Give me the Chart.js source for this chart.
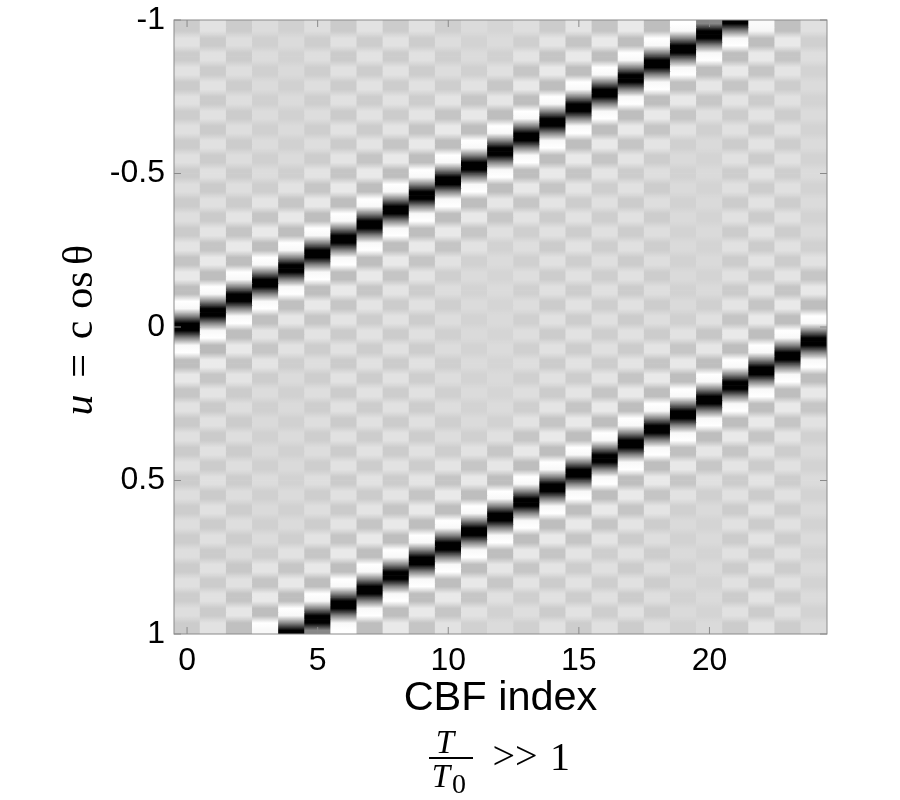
<!DOCTYPE html>
<html>
<head>
<meta charset="utf-8">
<title>CBF index</title>
<script src="https://cdn.jsdelivr.net/npm/chart.js@4"></script>
<style>
  html, body { margin: 0; background: #fff; }
  canvas { display: block; }
</style>
</head>
<body>
<canvas id="cbfChart" width="900" height="800"></canvas>
<script>
// grey level (0 black .. 255 white) of each CBF column, top (u = -1) to bottom (u = 1)
const col00 = [204,204,226,226,204,204,226,226,203,203,225,225,205,205,224,224,204,204,224,224,204,204,222,222,204,204,222,222,203,203,228,228,196,196,233,233,190,190,255,248,135,0,0,135,248,255,190,190,232,232,198,198,226,226,202,202,224,224,203,203,224,224,204,204,222,222,205,205,222,222,205,205,222,222,204,204,224,224,205,205,222,222,204,204];
const col01 = [226,226,203,203,225,225,204,204,226,226,203,203,225,225,203,203,225,225,204,204,224,224,203,203,224,224,203,203,228,228,197,197,233,233,190,190,255,248,135,0,0,135,248,255,186,186,235,235,198,198,228,228,202,202,225,225,203,203,225,225,204,204,224,224,203,203,225,225,204,204,224,224,203,203,225,225,204,204,225,225,203,203,226,226];
const col02 = [204,204,222,222,204,204,222,222,205,205,222,222,204,204,222,222,204,204,221,221,204,204,222,222,204,204,228,228,197,197,233,233,190,190,255,248,135,0,0,135,248,255,190,190,233,233,197,197,228,228,204,204,222,222,204,204,222,222,204,204,222,222,205,205,221,221,205,205,222,222,205,205,220,220,200,200,225,225,197,197,230,230,192,192];
const col03 = [220,220,208,208,220,220,208,208,219,219,208,208,220,220,208,208,220,220,208,208,220,220,206,206,228,228,197,197,233,233,190,190,255,248,135,0,0,135,248,255,192,192,228,228,198,198,228,228,205,205,220,220,208,208,218,218,209,209,218,218,208,208,220,220,208,208,218,218,208,208,220,220,206,206,228,228,197,197,233,233,190,190,255,248];
const col04 = [209,209,219,219,210,210,218,218,209,209,219,219,209,209,219,219,209,209,219,219,207,207,226,226,198,198,232,232,190,190,255,248,135,0,0,135,248,255,192,192,230,230,198,198,226,226,206,206,219,219,209,209,218,218,209,209,219,219,209,209,218,218,210,210,219,219,209,209,219,219,207,207,226,226,198,198,232,232,190,190,255,248,135,0];
const col05 = [222,222,206,206,222,222,206,206,222,222,206,206,221,221,206,206,222,222,205,205,227,227,198,198,232,232,190,190,255,248,135,0,0,135,248,255,190,190,232,232,198,198,227,227,205,205,222,222,206,206,222,222,206,206,222,222,206,206,221,221,206,206,222,222,206,206,222,222,205,205,227,227,198,198,232,232,190,190,255,248,135,0,0,135];
const col06 = [203,203,225,225,203,203,225,225,204,204,225,225,203,203,226,226,203,203,228,228,197,197,233,233,190,190,255,248,135,0,0,135,248,255,190,190,233,233,198,198,228,228,203,203,225,225,203,203,226,226,204,204,225,225,203,203,225,225,204,204,226,226,203,203,225,225,203,203,228,228,197,197,233,233,190,190,255,248,135,0,0,135,248,255];
const col07 = [226,226,205,205,226,226,205,205,226,226,205,205,226,226,204,204,228,228,197,197,233,233,190,190,255,248,135,0,0,135,248,255,190,190,233,233,198,198,228,228,205,205,226,226,205,205,225,225,205,205,226,226,205,205,225,225,205,205,226,226,205,205,226,226,204,204,228,228,197,197,233,233,190,190,255,248,135,0,0,135,248,255,190,190];
const col08 = [204,204,226,226,204,204,226,226,205,205,226,226,204,204,228,228,197,197,233,233,190,190,255,248,135,0,0,135,248,255,190,190,233,233,197,197,228,228,204,204,226,226,204,204,225,225,204,204,226,226,205,205,225,225,204,204,226,226,204,204,226,226,204,204,228,228,197,197,233,233,190,190,255,248,135,0,0,135,248,255,190,190,233,233];
const col09 = [225,225,205,205,225,225,205,205,225,225,205,205,228,228,197,197,233,233,190,190,255,248,135,0,0,135,248,255,190,190,233,233,197,197,228,228,205,205,225,225,205,205,224,224,205,205,225,225,206,206,225,225,205,205,224,224,205,205,225,225,205,205,228,228,197,197,233,233,190,190,255,248,135,0,0,135,248,255,190,190,233,233,197,197];
const col10 = [207,207,221,221,207,207,221,221,206,206,228,228,197,197,233,233,190,190,255,248,135,0,0,135,248,255,190,190,233,233,197,197,226,226,207,207,221,221,207,207,221,221,208,208,220,220,207,207,221,221,208,208,221,221,207,207,221,221,206,206,228,228,197,197,233,233,190,190,255,248,135,0,0,135,248,255,190,190,233,233,198,198,226,226];
const col11 = [219,219,211,211,219,219,208,208,226,226,198,198,232,232,190,190,255,248,135,0,0,135,248,255,190,190,232,232,198,198,226,226,209,209,219,219,211,211,219,219,211,211,218,218,211,211,219,219,211,211,219,219,211,211,219,219,208,208,226,226,198,198,232,232,190,190,255,248,135,0,0,135,248,255,190,190,232,232,198,198,226,226,209,209];
const col12 = [213,213,219,219,209,209,224,224,199,199,230,230,190,190,255,248,135,0,0,135,248,255,190,190,230,230,199,199,224,224,210,210,219,219,213,213,219,219,213,213,218,218,213,213,219,219,213,213,218,218,213,213,219,219,210,210,224,224,199,199,230,230,190,190,255,248,135,0,0,135,248,255,190,190,230,230,199,199,224,224,210,210,219,219];
const col13 = [222,222,207,207,227,227,198,198,232,232,190,190,255,248,135,0,0,135,248,255,190,190,232,232,198,198,227,227,207,207,222,222,208,208,222,222,208,208,221,221,208,208,222,222,208,208,222,222,208,208,222,222,207,207,227,227,198,198,232,232,190,190,255,248,135,0,0,135,248,255,190,190,232,232,198,198,227,227,207,207,222,222,208,208];
const col14 = [204,204,228,228,197,197,233,233,190,190,255,248,135,0,0,135,248,255,190,190,233,233,197,197,228,228,204,204,225,225,204,204,225,225,205,205,224,224,204,204,225,225,204,204,225,225,204,204,225,225,204,204,228,228,197,197,233,233,190,190,255,248,135,0,0,135,248,255,190,190,233,233,197,197,228,228,204,204,225,225,204,204,225,225];
const col15 = [228,228,197,197,233,233,190,190,255,248,135,0,0,135,248,255,190,190,233,233,197,197,228,228,205,205,226,226,205,205,226,226,206,206,225,225,205,205,226,226,205,205,226,226,205,205,226,226,205,205,228,228,197,197,233,233,190,190,255,248,135,0,0,135,248,255,190,190,233,233,197,197,228,228,205,205,226,226,205,205,226,226,205,205];
const col16 = [197,197,233,233,190,190,255,248,135,0,0,135,248,255,190,190,233,233,197,197,228,228,206,206,224,224,206,206,224,224,206,206,223,223,206,206,224,224,206,206,224,224,206,206,224,224,205,205,228,228,197,197,233,233,190,190,255,248,135,0,0,135,248,255,190,190,233,233,197,197,228,228,206,206,224,224,206,206,224,224,206,206,224,224];
const col17 = [233,233,190,190,255,248,135,0,0,135,248,255,190,190,233,233,197,197,228,228,204,204,225,225,204,204,225,225,205,205,224,224,204,204,225,225,204,204,225,225,204,204,225,225,204,204,228,228,197,197,233,233,190,190,255,248,135,0,0,135,248,255,190,190,233,233,197,197,228,228,204,204,225,225,204,204,225,225,204,204,225,225,204,204];
const col18 = [190,190,255,248,135,0,0,135,248,255,190,190,233,233,197,197,228,228,205,205,222,222,205,205,222,222,205,205,222,222,206,206,222,222,205,205,222,222,205,205,222,222,204,204,228,228,197,197,233,233,190,190,255,248,135,0,0,135,248,255,190,190,233,233,197,197,228,228,205,205,222,222,205,205,222,222,205,205,222,222,205,205,222,222];
const col19 = [255,248,135,0,0,135,248,255,192,192,232,232,198,198,226,226,208,208,218,218,210,210,218,218,210,210,218,218,211,211,218,218,210,210,218,218,210,210,218,218,208,208,226,226,198,198,232,232,190,190,255,248,135,0,0,135,248,255,192,192,232,232,198,198,226,226,208,208,218,218,210,210,218,218,210,210,218,218,210,210,218,218,210,210];
const col20 = [135,0,0,135,248,255,190,190,230,230,199,199,224,224,208,208,218,218,212,212,218,218,212,212,218,218,212,212,218,218,212,212,218,218,212,212,218,218,208,208,224,224,199,199,230,230,190,190,255,248,135,0,0,135,248,255,190,190,230,230,199,199,224,224,208,208,218,218,212,212,218,218,212,212,218,218,212,212,218,218,212,212,218,218];
const col21 = [0,135,248,255,190,190,233,233,197,197,228,228,204,204,225,225,204,204,225,225,205,205,224,224,204,204,225,225,204,204,225,225,204,204,225,225,203,203,228,228,197,197,233,233,190,190,255,248,135,0,0,135,248,255,190,190,233,233,197,197,228,228,204,204,225,225,204,204,225,225,204,204,225,225,204,204,225,225,204,204,225,225,204,204];
const col22 = [250,245,190,190,233,233,197,197,228,228,204,204,227,227,204,204,227,227,204,204,227,227,205,205,226,226,204,204,227,227,204,204,227,227,203,203,228,228,197,197,233,233,190,190,255,248,135,0,0,135,248,255,190,190,233,233,197,197,228,228,204,204,227,227,204,204,227,227,204,204,227,227,204,204,227,227,204,204,227,227,204,204,227,227];
const col23 = [192,192,233,233,197,197,228,228,205,205,225,225,205,205,225,225,205,205,225,225,206,206,224,224,205,205,225,225,205,205,225,225,204,204,228,228,197,197,233,233,190,190,255,248,135,0,0,135,248,255,190,190,233,233,197,197,228,228,205,205,225,225,205,205,225,225,205,205,225,225,205,205,225,225,205,205,225,225,205,205,225,225,205,205];
const col24 = [224,224,208,208,222,222,211,211,219,219,211,211,219,219,211,211,219,219,211,211,219,219,211,211,219,219,211,211,219,219,209,209,226,226,198,198,232,232,190,190,255,248,135,0,0,135,248,255,190,190,232,232,198,198,226,226,209,209,219,219,211,211,219,219,211,211,219,219,211,211,219,219,211,211,219,219,211,211,219,219,211,211,219,219];

const greyColumns = [col00,col01,col02,col03,col04,col05,col06,col07,col08,col09,col10,col11,col12,col13,col14,col15,col16,col17,col18,col19,col20,col21,col22,col23,col24];
const cbfIndex = ['0','1','2','3','4','5','6','7','8','9','10','11','12','13','14','15','16','17','18','19','20','21','22','23','24'];
const xTickLabels = ['0','5','10','15','20'];
const yTickValues = [-1,-0.5,0,0.5,1];
const yTickLabels = ['-1','-0.5','0','0.5','1'];

const ROWS = col00.length;
const SANS = '"Liberation Sans", Arial, sans-serif';
const SERIF = '"Liberation Serif", "Times New Roman", serif';

function edgeOf(row) {
  return -1 + 2 * row / ROWS;
}

function grey(v) {
  return 'rgb(' + v + ',' + v + ',' + v + ')';
}

// soft vertical shading inside a cell, hard edges between columns
function cellFill(context) {
  const values = greyColumns[context.dataIndex];
  const row = context.datasetIndex;
  const y = context.chart.scales.y;
  const v = values[row];
  if (!y) return grey(v);
  const y0 = y.getPixelForValue(edgeOf(row));
  const y1 = y.getPixelForValue(edgeOf(row + 1));
  // scales have no size yet on the first pass
  if (!Number.isFinite(y0) || !Number.isFinite(y1)) return grey(v);
  const above = row > 0 ? values[row - 1] : v;
  const below = row < ROWS - 1 ? values[row + 1] : v;
  const grad = context.chart.ctx.createLinearGradient(0, y0, 0, y1);
  grad.addColorStop(0, grey(Math.round((above + v) / 2)));
  grad.addColorStop(0.5, grey(v));
  grad.addColorStop(1, grey(Math.round((below + v) / 2)));
  return grad;
}

const datasets = [];
for (let row = 0; row < ROWS; row++) {
  datasets.push({
    label: 'row ' + row,
    data: cbfIndex.map(() => [edgeOf(row), edgeOf(row + 1)]),
    backgroundColor: cellFill,
    borderWidth: 0,
    grouped: false,
    barPercentage: 1,
    categoryPercentage: 1
  });
}

// frame, inward ticks and the math labels
const framePlugin = {
  id: 'frame',
  afterDatasetsDraw(chart) {
    const { ctx, chartArea: a, scales } = chart;
    ctx.save();
    ctx.strokeStyle = '#8a8a8a';
    ctx.lineWidth = 1;
    ctx.strokeRect(a.left, a.top, a.right - a.left, a.bottom - a.top);
    ctx.beginPath();
    xTickLabels.forEach(label => {
      const x = scales.x.getPixelForValue(cbfIndex.indexOf(label));
      ctx.moveTo(x, a.top); ctx.lineTo(x, a.top + 7);
      ctx.moveTo(x, a.bottom); ctx.lineTo(x, a.bottom - 7);
    });
    yTickValues.forEach(value => {
      const y = scales.y.getPixelForValue(value);
      ctx.moveTo(a.left, y); ctx.lineTo(a.left + 7, y);
      ctx.moveTo(a.right, y); ctx.lineTo(a.right - 7, y);
    });
    ctx.stroke();
    ctx.restore();
  },
  afterDraw(chart) {
    const ctx = chart.ctx;
    ctx.save();
    ctx.fillStyle = '#000';

    // rotated y label
    ctx.save();
    ctx.translate(92, 0);
    ctx.rotate(-Math.PI / 2);
    ctx.textAlign = 'center';
    ctx.textBaseline = 'alphabetic';
    ctx.font = 'italic 42px ' + SERIF;
    ctx.fillText('u', -405, 0);
    ctx.font = '42px ' + SERIF;
    ctx.fillText('=', -366, 0);
    ctx.fillText('c', -330, 0);
    ctx.fillText('os', -290, 0);
    ctx.fillText('\u03B8', -255, 0);
    ctx.restore();

    // T / T0 >> 1
    ctx.textAlign = 'center';
    ctx.textBaseline = 'alphabetic';
    ctx.font = 'italic 33px ' + SERIF;
    ctx.fillText('T', 445, 753);
    ctx.fillText('T', 441, 787);
    ctx.font = '28px ' + SERIF;
    ctx.fillText('0', 459, 793);
    ctx.fillRect(429, 757, 44, 2);
    ctx.font = '40px ' + SERIF;
    ctx.fillText('>>', 515, 769);
    ctx.fillText('1', 560, 770);
    ctx.restore();
  }
};

new Chart(document.getElementById('cbfChart'), {
  type: 'bar',
  data: { labels: cbfIndex, datasets: datasets },
  plugins: [framePlugin],
  options: {
    responsive: false,
    animation: false,
    layout: { padding: { top: 20, right: 73, left: 0, bottom: 0 } },
    plugins: { legend: { display: false }, tooltip: { enabled: false } },
    scales: {
      x: {
        type: 'category',
        grid: { display: false, drawTicks: false },
        border: { display: false },
        afterFit(scale) {
          scale.height = 166;
          scale.paddingLeft = 0;
          scale.paddingRight = 0;
        },
        ticks: {
          autoSkip: false,
          maxRotation: 0,
          padding: 8,
          color: '#000',
          font: { family: SANS, size: 32 },
          callback(value) {
            const label = cbfIndex[value];
            return xTickLabels.includes(label) ? label : '';
          }
        },
        title: {
          display: true,
          text: 'CBF index',
          color: '#000',
          font: { family: SANS, size: 41.5 },
          padding: { top: 0, bottom: 77 }
        }
      },
      y: {
        type: 'linear',
        min: -1,
        max: 1,
        reverse: true,
        grid: { display: false, drawTicks: false },
        border: { display: false },
        afterFit(scale) {
          scale.width = 174;
          scale.paddingTop = 0;
          scale.paddingBottom = 0;
        },
        afterBuildTicks(scale) { scale.ticks = yTickValues.map(value => ({ value })); },
        ticks: {
          padding: 9,
          color: '#000',
          font: { family: SANS, size: 32 },
          callback(value) { return yTickLabels[yTickValues.indexOf(value)]; }
        }
      }
    }
  }
});
</script>
</body>
</html>
